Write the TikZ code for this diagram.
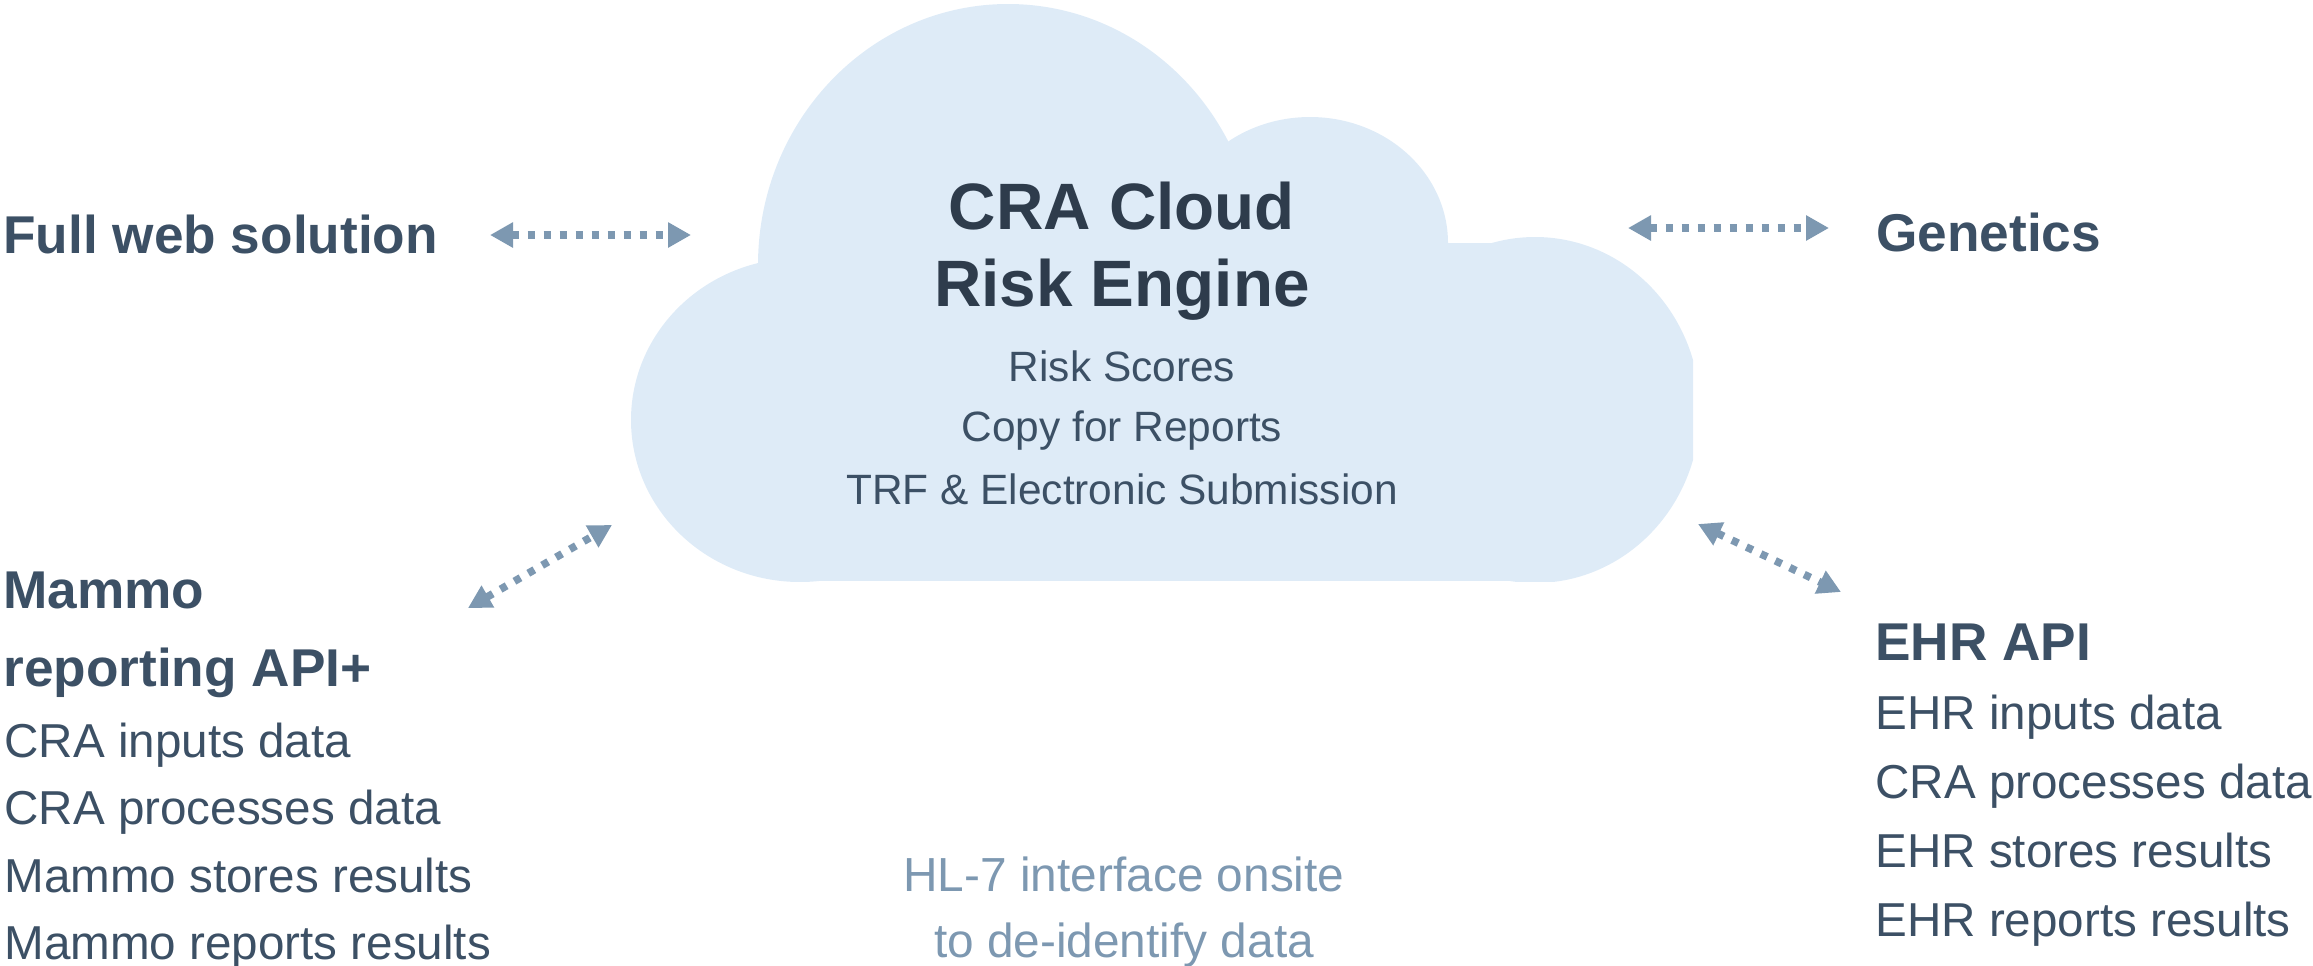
\documentclass[tikz,border=0pt]{standalone}
\usepackage{fontspec}
\setmainfont{Liberation Sans}
\usetikzlibrary{arrows.meta, positioning, calc}

\definecolor{cloudfill}{HTML}{DEEBF7}
\definecolor{titleink}{HTML}{2E3C4C}
\definecolor{bodyink}{HTML}{3C5065}
\definecolor{linkblue}{HTML}{7D98B1}

\tikzset{
  headtxt/.style={anchor=base west, inner sep=0pt, text=bodyink,
    font=\fontsize{26.6}{31}\selectfont\bfseries},
  listtxt/.style={anchor=base west, inner sep=0pt, text=bodyink,
    font=\fontsize{23.8}{28}\selectfont},
  cloudtitle/.style={anchor=base, inner sep=0pt, text=titleink,
    font=\fontsize{32.8}{38}\selectfont\bfseries},
  clouditem/.style={anchor=base, inner sep=0pt, text=bodyink,
    font=\fontsize{21.2}{25}\selectfont},
  notetxt/.style={anchor=base, inner sep=0pt, text=linkblue,
    font=\fontsize{23.9}{28}\selectfont},
  link/.style={draw=linkblue, line width=3.8pt, dash pattern=on 3.5pt off 4.5pt, <->}
}

\begin{document}
\begin{tikzpicture}[x=0.5pt, y=-0.5pt, >={Triangle[length=11.5pt, width=12pt]}]
  \useasboundingbox (0,0) rectangle (2313,965);

  % cloud
  \begin{scope}
    \clip (0,0) rectangle (1693,581);
    \fill[cloudfill] (1008,265) ellipse [x radius=250, y radius=261];
    \fill[cloudfill] (1310,243) ellipse [x radius=138, y radius=126];
    \fill[cloudfill] (1535,410) ellipse [x radius=165, y radius=173];
    \fill[cloudfill] (800,420) ellipse [x radius=169, y radius=162];
    \fill[cloudfill] (790,243) rectangle (1540,581);
  \end{scope}

  \node[cloudtitle] (title1) at (1122,229) {CRA Cloud};
  \node[cloudtitle] (title2) at (1122,306) {Risk Engine};
  \node[clouditem] (scores) at (1122,381) {Risk Scores};
  \node[clouditem] (copy) at (1122,441) {Copy for Reports};
  \node[clouditem] (trf) at (1122,504) {TRF \& Electronic Submission};

  % outside
  \node[headtxt] (web) at (3,253) {Full web solution};
  \node[headtxt] (gen) at (1876,251) {Genetics};

  \node[headtxt] (mam1) at (3,608) {Mammo};
  \node[headtxt] (mam2) at (3,686) {reporting API+};
  \node[listtxt] (mam3) at (4,757) {CRA inputs data};
  \node[listtxt] (mam4) at ([yshift=-33.8pt]mam3.base west) {CRA processes data};
  \node[listtxt] (mam5) at ([yshift=-33.8pt]mam4.base west) {Mammo stores results};
  \node[listtxt] (mam6) at ([yshift=-33.8pt]mam5.base west) {Mammo reports results};

  \node[headtxt] (ehr1) at (1875,660) {EHR API};
  \node[listtxt] (ehr2) at (1875,729) {EHR inputs data};
  \node[listtxt] (ehr3) at ([yshift=-34.5pt]ehr2.base west) {CRA processes data};
  \node[listtxt] (ehr4) at ([yshift=-34.5pt]ehr3.base west) {EHR stores results};
  \node[listtxt] (ehr5) at ([yshift=-34.5pt]ehr4.base west) {EHR reports results};

  \node[notetxt] (hl1) at (1124,891) {HL-7 interface onsite};
  \node[notetxt] (hl2) at (1124,957) {to de-identify data};

  % arrows
  \coordinate (webA) at (490,235);
  \coordinate (webB) at (691,235);
  \coordinate (genA) at (1628,228);
  \coordinate (genB) at (1829,228);
  \coordinate (mamA) at (468,608);
  \coordinate (mamB) at (612,525);
  \coordinate (ehrA) at (1698,524);
  \coordinate (ehrB) at (1841,592);
  \draw[link] (webA) -- (webB);
  \draw[link] (genA) -- (genB);
  \draw[link] (mamA) -- (mamB);
  \draw[link] (ehrA) -- (ehrB);
\end{tikzpicture}
\end{document}
